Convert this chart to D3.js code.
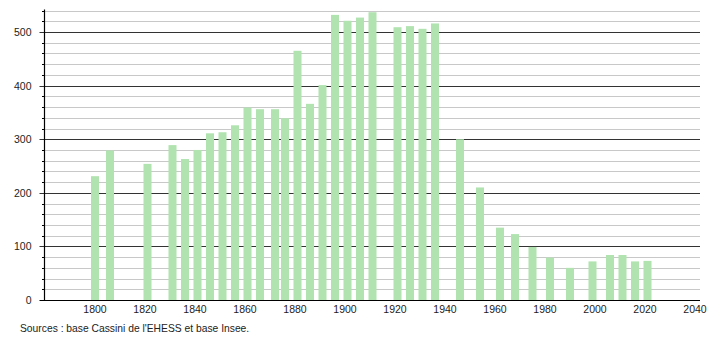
<!DOCTYPE html>
<html>
<head>
<meta charset="utf-8">
<script src="https://cdn.jsdelivr.net/npm/d3@7"></script>
<style>
  body { margin: 0; background: #fff; }
  text { font-family: "Liberation Sans", Arial, sans-serif; }
</style>
</head>
<body>
<div id="chart"></div>
<script>
// census years and population
const years = [1800, 1806, 1821, 1831, 1836, 1841, 1846, 1851, 1856, 1861, 1866, 1872, 1876,
  1881, 1886, 1891, 1896, 1901, 1906, 1911, 1921, 1926, 1931, 1936, 1946, 1954, 1962, 1968,
  1975, 1982, 1990, 1999, 2006, 2011, 2016, 2021];
const population = [231, 279, 254, 289, 263, 280, 311, 313, 326, 359, 356, 356, 339,
  465, 366, 401, 532, 521, 527, 537, 509, 511, 506, 516, 300, 210, 135, 123,
  99, 79, 60, 72, 84, 84, 72, 73];
const xTicks = [1800, 1820, 1840, 1860, 1880, 1900, 1920, 1940, 1960, 1980, 2000, 2020, 2040];
const yMajor = [0, 100, 200, 300, 400, 500];
const yMinor = d3.range(20, 541, 20).filter(v => v % 100 !== 0);
const source = "Sources : base Cassini de l'EHESS et base Insee.";

const width = 710, height = 340;
const margin = { top: 10.6, right: 10, bottom: 40, left: 44.5 };

const svg = d3.select("#chart").append("svg")
  .attr("width", width)
  .attr("height", height);

const x = d3.scaleLinear().domain([1779.8, 2042]).range([margin.left, width - margin.right]);
const y = d3.scaleLinear().domain([0, 540]).range([height - margin.bottom, margin.top]);

// minor grid
svg.append("g").selectAll("line")
  .data(yMinor)
  .join("line")
  .attr("x1", margin.left - 2.5)
  .attr("x2", width - margin.right)
  .attr("y1", d => Math.round(y(d)) + 0.5)
  .attr("y2", d => Math.round(y(d)) + 0.5)
  .attr("stroke", "#c8c8c8")
  .attr("stroke-width", 1);

// major grid
svg.append("g").selectAll("line")
  .data(yMajor.filter(d => d > 0))
  .join("line")
  .attr("x1", margin.left - 5)
  .attr("x2", width - margin.right)
  .attr("y1", d => Math.round(y(d)) + 0.5)
  .attr("y2", d => Math.round(y(d)) + 0.5)
  .attr("stroke", "#333")
  .attr("stroke-width", 1);

// bars
const barW = 8;
svg.append("g").selectAll("rect")
  .data(years.map((yr, i) => ({ yr, v: population[i] })))
  .join("rect")
  .attr("x", d => x(d.yr) - barW / 2)
  .attr("y", d => y(d.v))
  .attr("width", barW)
  .attr("height", d => y(0) - y(d.v))
  .attr("fill", "#b0e3b0");

// y axis
const y0 = Math.round(y(0)) + 0.5;
svg.append("line")
  .attr("x1", margin.left).attr("x2", margin.left)
  .attr("y1", margin.top - 1).attr("y2", y0)
  .attr("stroke", "#000").attr("stroke-width", 1.2);

svg.append("g").selectAll("line")
  .data(yMinor)
  .join("line")
  .attr("x1", margin.left - 2.5).attr("x2", margin.left)
  .attr("y1", d => Math.round(y(d)) + 0.5)
  .attr("y2", d => Math.round(y(d)) + 0.5)
  .attr("stroke", "#000");

// x axis
svg.append("line")
  .attr("x1", margin.left - 5).attr("x2", width - margin.right)
  .attr("y1", y0).attr("y2", y0)
  .attr("stroke", "#000").attr("stroke-width", 1.2);

// y labels
svg.append("g").selectAll("text")
  .data(yMajor)
  .join("text")
  .attr("x", margin.left - 13)
  .attr("y", d => y(d) + 4)
  .attr("text-anchor", "end")
  .style("font-size", "10.5px")
  .attr("fill", "#222")
  .text(d => d);

// x labels
svg.append("g").selectAll("text")
  .data(xTicks)
  .join("text")
  .attr("x", d => x(d))
  .attr("y", y(0) + 12.5)
  .attr("text-anchor", "middle")
  .style("font-size", "10.5px")
  .attr("fill", "#222")
  .text(d => d);

svg.append("text")
  .attr("x", 20)
  .attr("y", 332)
  .style("font-size", "10.3px")
  .attr("fill", "#222")
  .text(source);
</script>
</body>
</html>
